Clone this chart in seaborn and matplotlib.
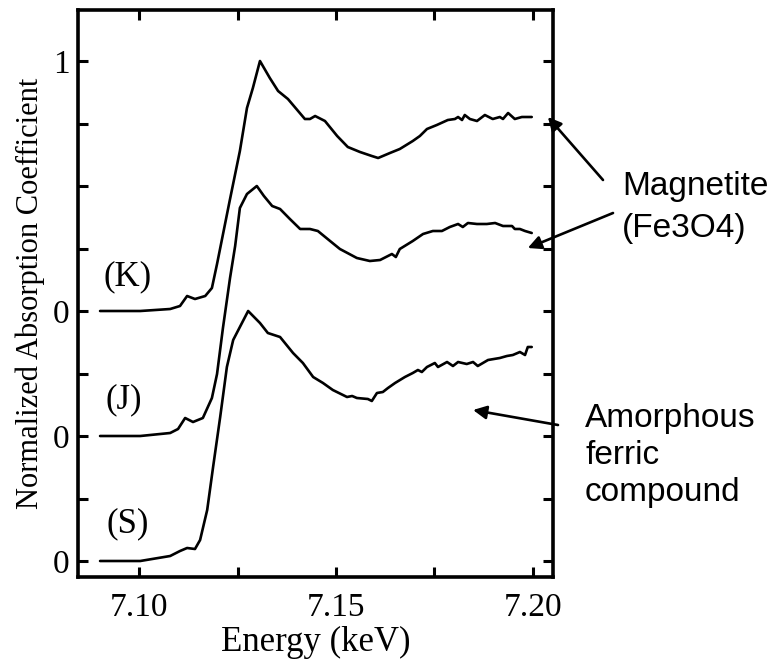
"""
Fe K-edge XANES spectra of samples K, J and S (normalized, stacked)
"""

import matplotlib
matplotlib.use("Agg")
import matplotlib.pyplot as plt
import seaborn as sns
import pandas as pd
import numpy as np

# --- data (energy in keV, normalized absorption) ---
energy_k = [7.0901, 7.1003, 7.1079, 7.1104, 7.1122, 7.1142, 7.1168, 7.1185, 7.1198,
            7.1230, 7.1256, 7.1274, 7.1289, 7.1307, 7.1332, 7.1353, 7.1378, 7.1421,
            7.1434, 7.1447, 7.1472, 7.1503, 7.1530, 7.1561, 7.1591, 7.1607, 7.1637,
            7.1662, 7.1695, 7.1713, 7.1731, 7.1756, 7.1784, 7.1802, 7.1810, 7.1820,
            7.1827, 7.1840, 7.1858, 7.1878, 7.1898, 7.1916, 7.1924, 7.1937, 7.1954,
            7.1972, 7.1997]
mu_k = [0.000, 0.000, 0.008, 0.020, 0.060, 0.048, 0.060, 0.092, 0.188,
        0.440, 0.640, 0.812, 0.892, 1.000, 0.932, 0.880, 0.848, 0.768,
        0.768, 0.780, 0.760, 0.700, 0.656, 0.636, 0.620, 0.612, 0.632,
        0.648, 0.680, 0.700, 0.728, 0.744, 0.764, 0.768, 0.776, 0.764,
        0.784, 0.768, 0.760, 0.784, 0.768, 0.776, 0.768, 0.792, 0.768,
        0.776, 0.776]

energy_j = [7.0901, 7.1003, 7.1079, 7.1099, 7.1117, 7.1137, 7.1162, 7.1185, 7.1198,
            7.1213, 7.1231, 7.1244, 7.1256, 7.1274, 7.1299, 7.1317, 7.1338, 7.1358,
            7.1383, 7.1409, 7.1434, 7.1454, 7.1485, 7.1510, 7.1553, 7.1586, 7.1612,
            7.1642, 7.1652, 7.1662, 7.1695, 7.1721, 7.1746, 7.1769, 7.1789, 7.1810,
            7.1822, 7.1835, 7.1858, 7.1883, 7.1904, 7.1924, 7.1947, 7.1954, 7.1967,
            7.1980, 7.1997]
mu_j = [0.000, 0.000, 0.012, 0.028, 0.072, 0.056, 0.072, 0.152, 0.248,
        0.432, 0.632, 0.760, 0.912, 0.968, 1.000, 0.960, 0.920, 0.908,
        0.868, 0.828, 0.828, 0.820, 0.780, 0.748, 0.712, 0.700, 0.704,
        0.728, 0.716, 0.748, 0.780, 0.808, 0.820, 0.820, 0.836, 0.848,
        0.836, 0.852, 0.848, 0.848, 0.852, 0.840, 0.840, 0.828, 0.828,
        0.820, 0.812]

energy_s = [7.0901, 7.1003, 7.1079, 7.1104, 7.1122, 7.1142, 7.1155, 7.1173, 7.1188,
            7.1206, 7.1223, 7.1239, 7.1256, 7.1277, 7.1307, 7.1327, 7.1358, 7.1391,
            7.1416, 7.1442, 7.1467, 7.1492, 7.1528, 7.1541, 7.1553, 7.1581, 7.1591,
            7.1604, 7.1619, 7.1632, 7.1650, 7.1675, 7.1695, 7.1708, 7.1718, 7.1731,
            7.1751, 7.1759, 7.1782, 7.1797, 7.1810, 7.1832, 7.1848, 7.1860, 7.1886,
            7.1916, 7.1934, 7.1949, 7.1967, 7.1980, 7.1987, 7.1997]
mu_s = [0.000, 0.000, 0.020, 0.040, 0.052, 0.048, 0.084, 0.204, 0.376,
        0.576, 0.776, 0.884, 0.936, 1.000, 0.952, 0.912, 0.896, 0.832,
        0.792, 0.736, 0.712, 0.684, 0.656, 0.660, 0.652, 0.648, 0.640,
        0.672, 0.676, 0.692, 0.712, 0.736, 0.752, 0.764, 0.756, 0.776,
        0.792, 0.776, 0.796, 0.780, 0.796, 0.788, 0.796, 0.780, 0.804,
        0.812, 0.820, 0.824, 0.836, 0.824, 0.856, 0.856]

sample_names = ["(K)", "(J)", "(S)"]
offsets = [1.0, 0.5, 0.0]

xticks = [7.10, 7.125, 7.15, 7.175, 7.20]
xtick_labels = ["7.10", "", "7.15", "", "7.20"]
yticks = [0, 0.25, 0.5, 0.75, 1.0, 1.25, 1.5, 1.75, 2.0]
ytick_labels = ["0", "", "0", "", "0", "", "", "", "1"]

# --- style ---
sns.set_style("ticks", {"axes.edgecolor": "black", "text.color": "black",
                        "axes.labelcolor": "black", "xtick.color": "black",
                        "ytick.color": "black"})
plt.rcParams['font.family'] = ['Liberation Serif', 'DejaVu Serif']
SANS = ['Liberation Sans', 'DejaVu Sans']

fig = plt.figure(figsize=(7.78, 6.66), dpi=100)
ax = fig.add_axes([78 / 778, 1 - 577 / 666, 475 / 778, 567 / 666])

# stacked spectra
curves = [(energy_k, mu_k), (energy_j, mu_j), (energy_s, mu_s)]
for (e, mu), off in zip(curves, offsets):
    df = pd.DataFrame({"energy": e, "mu": np.array(mu) + off})
    sns.lineplot(data=df, x="energy", y="mu", ax=ax, color="black",
                 linewidth=1.9, sort=False, estimator=None)

ax.set_xlim(7.0845, 7.2051)
ax.set_ylim(-0.064, 2.204)

ax.set_xticks(xticks)
ax.set_xticklabels(xtick_labels)
ax.set_yticks(yticks)
ax.set_yticklabels(ytick_labels)
ax.tick_params(direction='in', length=7, width=2.2, labelsize=24,
               top=True, right=True)
ax.tick_params(axis='x', pad=11)
ax.tick_params(axis='y', pad=6)
for sp in ax.spines.values():
    sp.set_linewidth(2.6)

ax.set_xlabel("Energy (keV)", fontsize=25, labelpad=2)
ax.set_ylabel("Normalized Absorption Coefficient", fontsize=22, labelpad=6)

# sample labels
label_pos = [(7.0972, 1.136), (7.0962, 0.644), (7.0972, 0.150)]
for name, (lx, ly) in zip(sample_names, label_pos):
    ax.text(lx, ly, name, fontsize=25, ha='center', va='center')

# annotations (text outside the axes, arrows point into the plot)
arrow = dict(arrowstyle='-|>', color='black', lw=1.9, mutation_scale=20,
             shrinkA=0, shrinkB=0)
ax.annotate("", xy=(7.2038, 1.776), xycoords='data',
            xytext=(603, 486), textcoords='figure pixels', arrowprops=arrow)
ax.annotate("", xy=(7.1987, 1.252), xycoords='data',
            xytext=(613, 453), textcoords='figure pixels', arrowprops=arrow)
ax.annotate("", xy=(7.1848, 0.604), xycoords='data',
            xytext=(558, 241), textcoords='figure pixels', arrowprops=arrow)

fig.text(622 / 778, 471 / 666, "Magnetite", family=SANS, fontsize=24, va='baseline')
fig.text(622 / 778, 429 / 666, "(Fe3O4)", family=SANS, fontsize=24, va='baseline')
fig.text(585 / 778, 239 / 666, "Amorphous", family=SANS, fontsize=24, va='baseline')
fig.text(585 / 778, 202 / 666, "ferric", family=SANS, fontsize=24, va='baseline')
fig.text(585 / 778, 165 / 666, "compound", family=SANS, fontsize=24, va='baseline')

fig.savefig("out.png", dpi=100)
